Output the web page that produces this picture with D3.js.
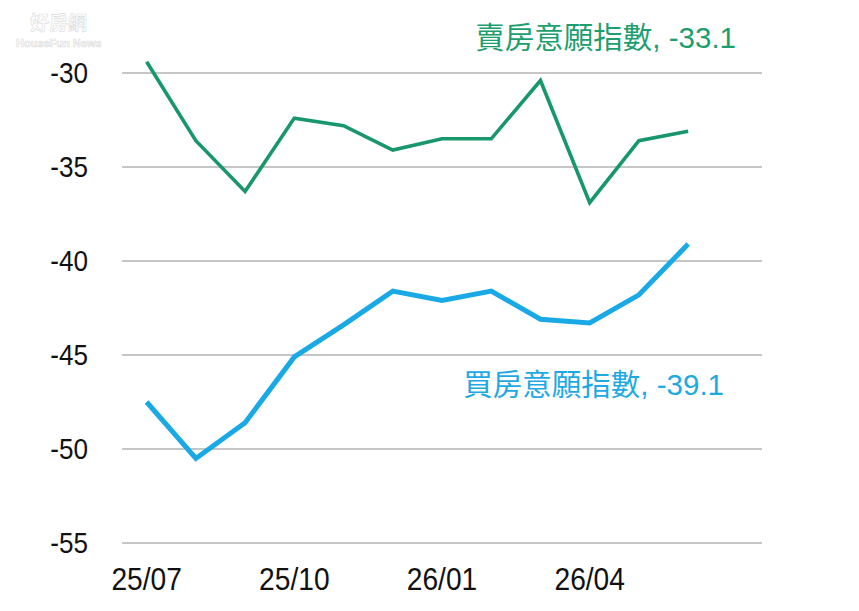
<!DOCTYPE html>
<html>
<head>
<meta charset="utf-8">
<script src="https://cdn.jsdelivr.net/npm/d3@7"></script>
<style>
html,body{margin:0;padding:0;background:#fff;}
svg{display:block;}
</style>
</head>
<body>
<svg id="chart" width="859" height="611"></svg>
<script>
const months = ["25/07","25/08","25/09","25/10","25/11","25/12","26/01","26/02","26/03","26/04","26/05","26/06"];
const tickLabels = ["25/07","25/10","26/01","26/04"];
const sellIndex = [-29.4,-33.6,-36.3,-32.4,-32.8,-34.1,-33.5,-33.5,-30.4,-36.9,-33.6,-33.1];
const buyIndex  = [-47.5,-50.5,-48.6,-45.1,-43.4,-41.6,-42.1,-41.6,-43.1,-43.3,-41.8,-39.1];
const yTicks = [-30,-35,-40,-45,-50,-55];
const sellLabel = "賣房意願指數, -33.1";
const buyLabel = "買房意願指數, -39.1";

const svg = d3.select("#chart");
const font = "'Liberation Sans', Arial, 'Noto Sans CJK TC', sans-serif";

const x = d3.scaleLinear().domain([-0.5, 12.5]).range([122, 762]);
const y = d3.scaleLinear().domain([-55, -30]).range([543, 73]);

// gridlines
svg.append("g").selectAll("line").data(yTicks).join("line")
  .attr("x1", x(-0.5)).attr("x2", x(12.5))
  .attr("y1", d => y(d)).attr("y2", d => y(d))
  .attr("stroke", "#c6c6c6").attr("stroke-width", 2);

// y labels
svg.append("g").selectAll("text").data(yTicks).join("text")
  .attr("transform", d => `translate(88,${y(d)+10}) scale(0.9,1)`)
  .attr("text-anchor", "end")
  .attr("font-family", font).attr("font-size", 29).attr("fill", "#111")
  .text(d => d3.format("d")(d).replace("−","-"));

// x labels
svg.append("g").selectAll("text").data(tickLabels).join("text")
  .attr("transform", d => `translate(${x(months.indexOf(d))},${590}) scale(0.88,1)`)
  .attr("text-anchor", "middle")
  .attr("font-family", font).attr("font-size", 32).attr("fill", "#111")
  .text(d => d);

const line = d3.line().x((d,i) => x(i)).y(d => y(d));

svg.append("path").datum(sellIndex)
  .attr("d", line).attr("fill", "none")
  .attr("stroke", "#17976a").attr("stroke-width", 3.6)
  .attr("stroke-linejoin", "miter");

svg.append("path").datum(buyIndex)
  .attr("d", line).attr("fill", "none")
  .attr("stroke", "#18a9e6").attr("stroke-width", 5)
  .attr("stroke-linejoin", "miter");

// series labels
svg.append("text")
  .attr("x", 736).attr("y", 48)
  .attr("text-anchor", "end")
  .attr("font-family", font).attr("font-size", 29.5).attr("fill", "#1d9e6e")
  .text(sellLabel);

svg.append("text")
  .attr("x", 724).attr("y", 395)
  .attr("text-anchor", "end")
  .attr("font-family", font).attr("font-size", 29.5).attr("fill", "#1ea9e3")
  .text(buyLabel);

// watermark
const wm = svg.append("g").attr("fill", "#fff").attr("stroke", "#d8d8d8").attr("stroke-width", 0.6).attr("opacity", 0.9);
wm.append("text").attr("x", 30).attr("y", 30)
  .attr("font-family", "'Noto Sans CJK TC', sans-serif").attr("font-weight", "bold").attr("font-size", 19)
  .text("好房網");
wm.append("text").attr("x", 16).attr("y", 47)
  .attr("font-family", font).attr("font-weight", "bold").attr("font-size", 11)
  .text("HouseFun News");
</script>
</body>
</html>
